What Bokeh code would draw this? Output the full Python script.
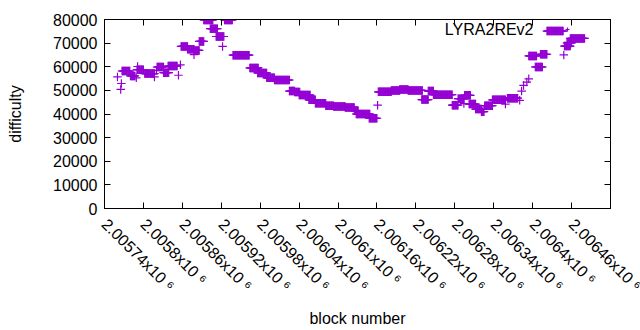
import numpy as np
from bokeh.plotting import figure
from bokeh.models import (FixedTicker, LinearAxis, Label, Legend, LegendItem,
                          ColumnDataSource, Range1d)
from bokeh.embed import file_html
from bokeh.resources import INLINE

# ---- data ----
# runs of consecutive blocks that share one difficulty value
run_start = [2005767, 2005780, 2005790, 2005802, 2005821, 2005831, 2005838, 2005858,
             2005868, 2005878, 2005886, 2005893, 2005903, 2005912, 2005925, 2005938,
             2005964, 2005976, 2005990, 2006002, 2006025, 2006033, 2006040, 2006055,
             2006065, 2006081, 2006093, 2006111, 2006125, 2006128, 2006148, 2006162,
             2006182, 2006195, 2006208, 2006229, 2006239, 2006247, 2006276, 2006285,
             2006295, 2006302, 2006312, 2006321, 2006326, 2006338, 2006361, 2006394,
             2006404, 2006412, 2006422, 2006449, 2006453, 2006458]
run_end = [2005779, 2005787, 2005800, 2005817, 2005831, 2005839, 2005852, 2005868,
           2005878, 2005886, 2005893, 2005907, 2005914, 2005924, 2005937, 2005963,
           2005977, 2005990, 2006002, 2006025, 2006033, 2006041, 2006057, 2006065,
           2006081, 2006093, 2006111, 2006125, 2006131, 2006149, 2006160, 2006182,
           2006195, 2006208, 2006230, 2006239, 2006247, 2006276, 2006285, 2006294,
           2006304, 2006312, 2006321, 2006325, 2006338, 2006358, 2006377, 2006406,
           2006415, 2006422, 2006447, 2006458, 2006460, 2006480]
run_diff = [58200, 56100, 58750, 57100, 59900, 57500, 60300, 68600,
            67400, 66900, 70700, 79800, 76100, 72800, 79800, 64900,
            59500, 57400, 55300, 54400, 49700, 49300, 48000, 46000,
            44600, 43500, 43200, 42800, 41400, 40000, 38200, 49400,
            50000, 50400, 50000, 46100, 49700, 48200, 43750, 46500,
            47900, 44200, 42100, 41000, 43500, 46000, 46700, 64600,
            59900, 65300, 75100, 68750, 70100, 72000]
# isolated blocks
single_block = [2005760, 2005765, 2005766, 2005789, 2005791, 2005817, 2005820, 2005854,
                2005857, 2005878, 2005922, 2006161, 2006294, 2006358, 2006380, 2006383,
                2006386, 2006391, 2006394, 2006448]
single_diff = [55700, 50400, 52900, 55300, 60100, 55700, 58500, 56400,
               60800, 65100, 68600, 43750, 44400, 44200, 45800, 49700,
               52100, 53500, 54900, 65000]

x_ticks = [2005740, 2005800, 2005860, 2005920, 2005980, 2006040, 2006100,
           2006160, 2006220, 2006280, 2006340, 2006400, 2006460, 2006520]
x_tick_labels = ["2.00574x10 \u2076", "2.0058x10 \u2076", "2.00586x10 \u2076", "2.00592x10 \u2076",
                 "2.00598x10 \u2076", "2.00604x10 \u2076", "2.0061x10 \u2076", "2.00616x10 \u2076",
                 "2.00622x10 \u2076", "2.00628x10 \u2076", "2.00634x10 \u2076", "2.0064x10 \u2076",
                 "2.00646x10 \u2076", "2.00652x10 \u2076"]
y_ticks = [0, 10000, 20000, 30000, 40000, 50000, 60000, 70000, 80000]
y_tick_labels = ["0", "10000", "20000", "30000", "40000", "50000", "60000", "70000", "80000"]
series_name = "LYRA2REv2"

# ---- build points ----
bx, dy = [], []
for s, e, d in zip(run_start, run_end, run_diff):
    for b in range(s, e + 1):
        bx.append(b)
        dy.append(d)
bx += single_block
dy += single_diff
src = ColumnDataSource(dict(x=bx, y=dy))

FONT = "Liberation Sans"
FS = "16px"
COLOR = "#9400D3"
ANG = -np.pi / 4

p = figure(width=640, height=330, output_backend="svg", toolbar_location=None,
           x_range=Range1d(x_ticks[0], x_ticks[-1]), y_range=Range1d(y_ticks[0], y_ticks[-1]),
           min_border_left=104, min_border_right=30, min_border_top=19, min_border_bottom=119,
           x_axis_label="block number", y_axis_label="difficulty")
p.xgrid.visible = False
p.ygrid.visible = False
p.outline_line_color = "black"
p.outline_line_width = 1
p.background_fill_color = "white"
p.border_fill_color = "white"

r = p.scatter("x", "y", source=src, marker="cross", size=8.5, line_color=COLOR, line_width=1.2)

for ax, ticks, labels in ((p.xaxis[0], x_ticks, x_tick_labels), (p.yaxis[0], y_ticks, y_tick_labels)):
    ax.ticker = FixedTicker(ticks=ticks)
    ax.major_label_overrides = {t: l for t, l in zip(ticks, labels)}
    ax.major_tick_in = 6
    ax.major_tick_out = 0
    ax.minor_tick_in = 0
    ax.minor_tick_out = 0
    ax.axis_line_color = "black"
    ax.major_tick_line_color = "black"
    ax.major_label_text_font = FONT
    ax.major_label_text_font_size = FS
    ax.major_label_text_color = "black"
    ax.axis_label_text_font = FONT
    ax.axis_label_text_font_size = FS
    ax.axis_label_text_font_style = "normal"
    ax.axis_label_text_color = "black"

xa = p.xaxis[0]
xa.major_label_orientation = ANG
xa.major_label_standoff = 13
xa.axis_label_standoff = 7
# the last tick label lies almost wholly outside the window (cut at the edge in
# the reference); Bokeh would push it inward onto its neighbour, so leave it blank
ov = dict(xa.major_label_overrides)
ov[x_ticks[-1]] = ""
xa.major_label_overrides = ov
p.yaxis[0].major_label_standoff = 7
p.yaxis[0].axis_label_standoff = 26

# mirrored ticks on top and right
for side, ticks in (("above", x_ticks), ("right", y_ticks)):
    ax = LinearAxis(ticker=FixedTicker(ticks=ticks))
    ax.major_label_overrides = {t: "" for t in ticks}
    ax.major_label_text_font_size = "0px"
    ax.major_label_standoff = 0
    ax.major_tick_in = 6
    ax.major_tick_out = 0
    ax.minor_tick_in = 0
    ax.minor_tick_out = 0
    ax.axis_line_color = "black"
    p.add_layout(ax, side)

# key: text with the point sample to its right (gnuplot style)
p.add_layout(Label(x=429, y=179, x_units="screen", y_units="screen", text=series_name,
                   text_align="right", text_baseline="middle", text_font=FONT,
                   text_font_size=FS, text_color="black"))
leg = Legend(items=[LegendItem(label="", renderers=[r])], location=(458, 174),
             padding=0, margin=0, spacing=0, glyph_width=10, glyph_height=10,
             label_width=0, label_height=10, label_standoff=0,
             border_line_color=None, background_fill_alpha=0)
p.add_layout(leg, "center")

open("out.html", "w").write(file_html(p, INLINE))
